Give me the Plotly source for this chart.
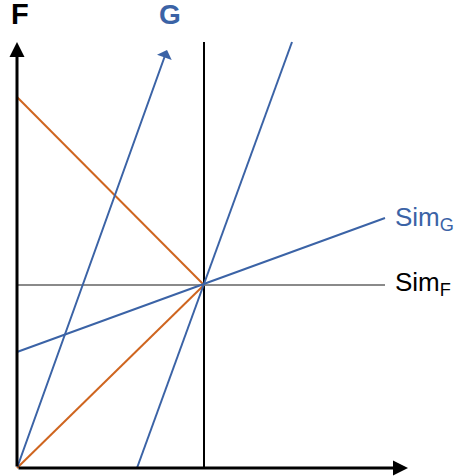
import plotly.graph_objects as go

# data coordinates (origin at the axes' corner)
orange_down_x = [0, 187]; orange_down_y = [371, 183]
orange_up_x = [0, 187]; orange_up_y = [0, 183]
steep_x = [120, 275]; steep_y = [0, 426]
simg_x = [0, 368]; simg_y = [116, 250]
simf_x = [0, 368]; simf_y = [183, 183]
vert_x = [187, 187]; vert_y = [0, 426]
g_axis = [(0, 0), (150, 418)]
x_axis = [(0, 0), (391, 0)]
y_axis = [(0, 0), (0, 426)]

BLUE = "#3B63A6"
ORANGE = "#CF651F"
GRAY = "#8A8A8A"
FONT = "Liberation Sans, Arial"

fig = go.Figure()

def seg(x, y, color, w):
    fig.add_trace(go.Scatter(x=x, y=y, mode="lines", line=dict(color=color, width=w),
                             hoverinfo="skip", showlegend=False))

seg(vert_x, vert_y, "black", 2)
seg(simf_x, simf_y, GRAY, 2)
seg(orange_down_x, orange_down_y, ORANGE, 2)
seg(orange_up_x, orange_up_y, ORANGE, 2)
seg(steep_x, steep_y, BLUE, 2)
seg(simg_x, simg_y, BLUE, 2)

def arrow(p0, p1, color, w, head, size):
    fig.add_annotation(x=p1[0], y=p1[1], ax=p0[0], ay=p0[1], xref="x", yref="y",
                       axref="x", ayref="y", showarrow=True, arrowhead=head,
                       arrowsize=size, arrowwidth=w, arrowcolor=color, text="")

arrow(*g_axis, BLUE, 2, 1, 1.3)
arrow(*x_axis, "black", 3, 2, 1.0)
arrow(*y_axis, "black", 3, 2, 1.0)

fig.add_annotation(x=3, y=454, text="<b>F</b>", showarrow=False, xref="x", yref="y",
                   font=dict(family=FONT, size=29, color="black"))
fig.add_annotation(x=153, y=454, text="<b>G</b>", showarrow=False, xref="x", yref="y",
                   font=dict(family=FONT, size=28, color=BLUE))
fig.add_annotation(x=376, y=250, text="Sim<sub>G</sub>", showarrow=False, xref="x", yref="y",
                   xanchor="left", font=dict(family=FONT, size=26, color=BLUE))
fig.add_annotation(x=376, y=185, text="Sim<sub>F</sub>", showarrow=False, xref="x", yref="y",
                   xanchor="left", font=dict(family=FONT, size=26, color="black"))

fig.update_layout(width=457, height=476, margin=dict(l=0, r=0, t=0, b=0),
                  plot_bgcolor="white", paper_bgcolor="white",
                  xaxis=dict(range=[-17, 440], visible=False, fixedrange=True),
                  yaxis=dict(range=[-8, 468], visible=False, fixedrange=True))

# remove the browser's default 8px page margin so the figure fills the window
fig.write_html("out.html", config={"displayModeBar": False},
               post_script="document.body.style.margin='0px';")
